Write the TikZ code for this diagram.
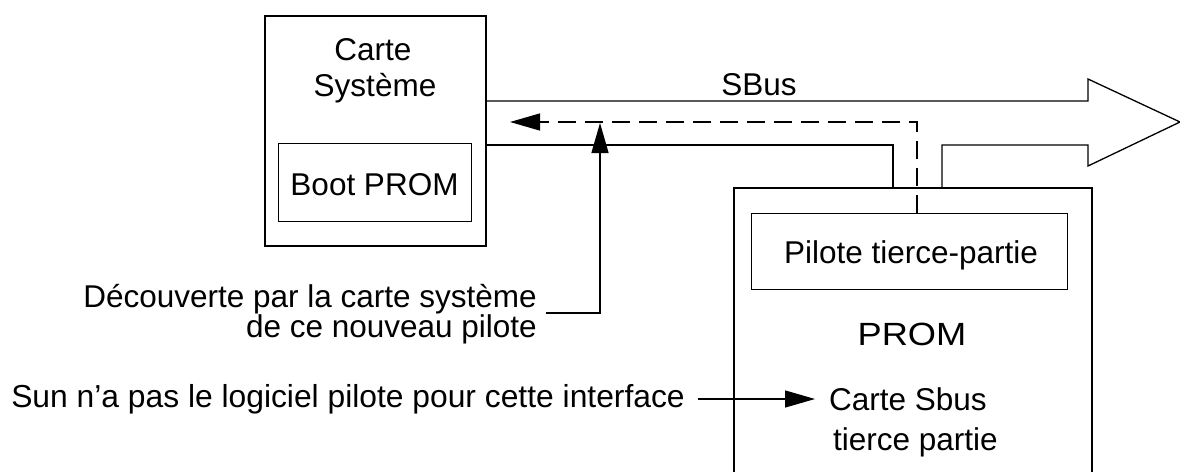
\documentclass[tikz,border=0pt]{standalone}
\usepackage{fontspec}
\usepackage{graphicx}
\setmainfont{Liberation Sans}
\usetikzlibrary{arrows.meta}
\begin{document}
\begin{tikzpicture}[x=1pt,y=-1pt,
  txt/.style={inner sep=0pt,font=\fontsize{31.5}{36}\selectfont},
  outerbox/.style={draw,line width=2pt,anchor=north west,inner sep=0pt},
  innerbox/.style={draw,line width=1pt,anchor=north west,inner sep=0pt},
  busline/.style={line width=1.3pt,line join=miter},
  conn/.style={line width=1.3pt,-{Triangle[length=30pt,width=17pt]}},
  dashconn/.style={line width=1.3pt,dash pattern=on 18pt off 9pt,-{Triangle[length=30pt,width=17pt]}}
]
\useasboundingbox (0,0) rectangle (1180,471);

% Carte Systeme
\node[outerbox,minimum width=221pt,minimum height=230pt] (sys) at (264,15) {};
\node[innerbox,minimum width=193pt,minimum height=78pt] (boot) at (278,143) {};
\node[txt,anchor=base] (t1) at (373,60) {Carte};
\node[txt,anchor=base] (t2) at (375,96) {Système};
\node[txt,anchor=base] (t3) at (374.5,195) {Boot PROM};

% PROM card
\node[outerbox,minimum width=358pt,minimum height=340pt] (prom) at (733,187) {};
\node[innerbox,minimum width=316pt,minimum height=76pt] (pil) at (751,213) {};
\node[txt,anchor=base] (t4) at (911,263) {Pilote tierce-partie};
\node[txt,anchor=base] (t5) at (912,345) {\scalebox{1.15}[1.02]{PROM}};
\node[txt,anchor=base west] (t6) at (829,410) {Carte Sbus};
\node[txt,anchor=base west] (t7) at (833,450) {tierce partie};

% SBus
\draw[busline] (sys.east |- 0,101) -- (1088,101) -- (1088,79) -- (1180,122)
  -- (1088,166) -- (1088,145) -- (942,145) -- (942,0 |- prom.north);
\draw[busline] (sys.east |- 0,145) -- (893,145) -- (893,0 |- prom.north);
\node[txt,anchor=base] (sbus) at (759,95) {SBus};

% dashed discovery path
\coordinate (dtop) at (917,122);
\coordinate (dend) at (510,122);
\draw[dashconn] (917,0 |- pil.north) -- (dtop) -- (dend);

% labels on the left
\node[txt,anchor=base east] (d1) at (537,307) {Découverte par la carte système};
\node[txt,anchor=base east] (d2) at (537,337) {de ce nouveau pilote};
\coordinate (dc) at (600,313);
\coordinate (dup) at (600,123);
\draw[conn] (546,313) -- (dc) -- (dup);

\node[txt,anchor=base east,font=\fontsize{31.8}{36}\selectfont] (sun) at (685,407) {Sun n’a pas le logiciel pilote pour cette interface};
\coordinate (sa) at (698,399);
\coordinate (sb) at (815,399);
\draw[conn] (sa) -- (sb);
\end{tikzpicture}
\end{document}
